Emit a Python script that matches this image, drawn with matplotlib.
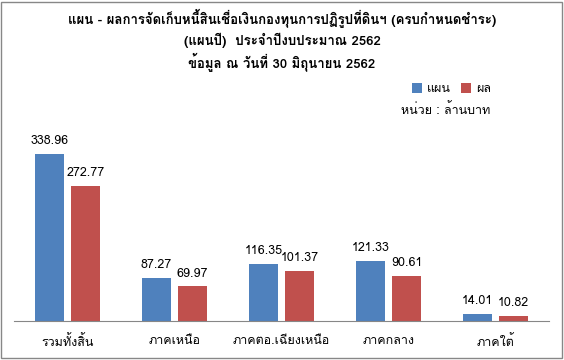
import matplotlib
matplotlib.use('Agg')
import numpy as np
import matplotlib.pyplot as plt
from matplotlib import font_manager as fm
from matplotlib.ft2font import FT2Font
from matplotlib.patches import Rectangle

categories = ['รวมทั้งสิ้น', 'ภาคเหนือ', 'ภาคตอ.เฉียงเหนือ', 'ภาคกลาง', 'ภาคใต้']
plan = [338.96, 87.27, 116.35, 121.33, 14.01]
result = [272.77, 69.97, 101.37, 90.61, 10.82]
series_names = ['แผน', 'ผล']
title_lines = ['แผน - ผลการจัดเก็บหนี้สินเชื่อเงินกองทุนการปฏิรูปที่ดินฯ (ครบกำหนดชำระ)',
               '(แผนปี)  ประจำปีงบประมาณ 2562',
               'ข้อมูล ณ วันที่ 30 มิถุนายน 2562']
unit_text = 'หน่วย : ล้านบาท'


def find_thai_font():
    names = []
    for f in fm.fontManager.ttflist:
        try:
            if ord('ก') in FT2Font(f.fname).get_charmap():
                names.append(f.name)
        except Exception:
            pass
    return names


thai = find_thai_font()
families = (thai[:1] if thai else []) + ['DejaVu Sans']
plt.rcParams['font.family'] = families

fig = plt.figure(figsize=(5.64, 3.6), dpi=100)
ax = fig.add_axes([14 / 564, 39 / 360, 535 / 564, 200 / 360])

x = np.arange(len(categories))
w = 0.27
b1 = ax.bar(x - w / 2 - 0.033, plan, w, color='#4f81bd', label=series_names[0])
b2 = ax.bar(x + w / 2 + 0.033, result, w, color='#c0504d', label=series_names[1])
for bars in (b1, b2):
    ax.bar_label(bars, fmt='%.2f', padding=5, fontsize=9)

ax.set_xlim(-0.5, len(categories) - 0.5)
ax.set_ylim(0, 405)
ax.set_yticks([])
ax.set_xticks(x)
ax.set_xticklabels(categories, fontsize=9)
ax.tick_params(axis='x', length=0, pad=10)
for s in ['top', 'right', 'left']:
    ax.spines[s].set_visible(False)
ax.spines['bottom'].set_color('#878787')

for i, line in enumerate(title_lines):
    fig.text(0.5, 1 - (18 + i * 22) / 360, line, ha='center', va='center',
             fontsize=9.5, fontweight='bold')
fig.text(490 / 564, 1 - 110 / 360, unit_text, ha='right', va='center', fontsize=9)
ax.legend(loc='center right', bbox_to_anchor=(491 / 564, 1 - 89 / 360),
          bbox_transform=fig.transFigure, ncol=2, frameon=False, fontsize=9,
          handlelength=0.8, handleheight=0.8, columnspacing=0.8, handletextpad=0.4,
          borderaxespad=0, borderpad=0)

fig.patches.append(Rectangle((1 / 564, 2 / 360), 561 / 564, 356 / 360,
                             transform=fig.transFigure, fill=False,
                             edgecolor='#878787', linewidth=1))
fig.savefig('out.png', dpi=100)
